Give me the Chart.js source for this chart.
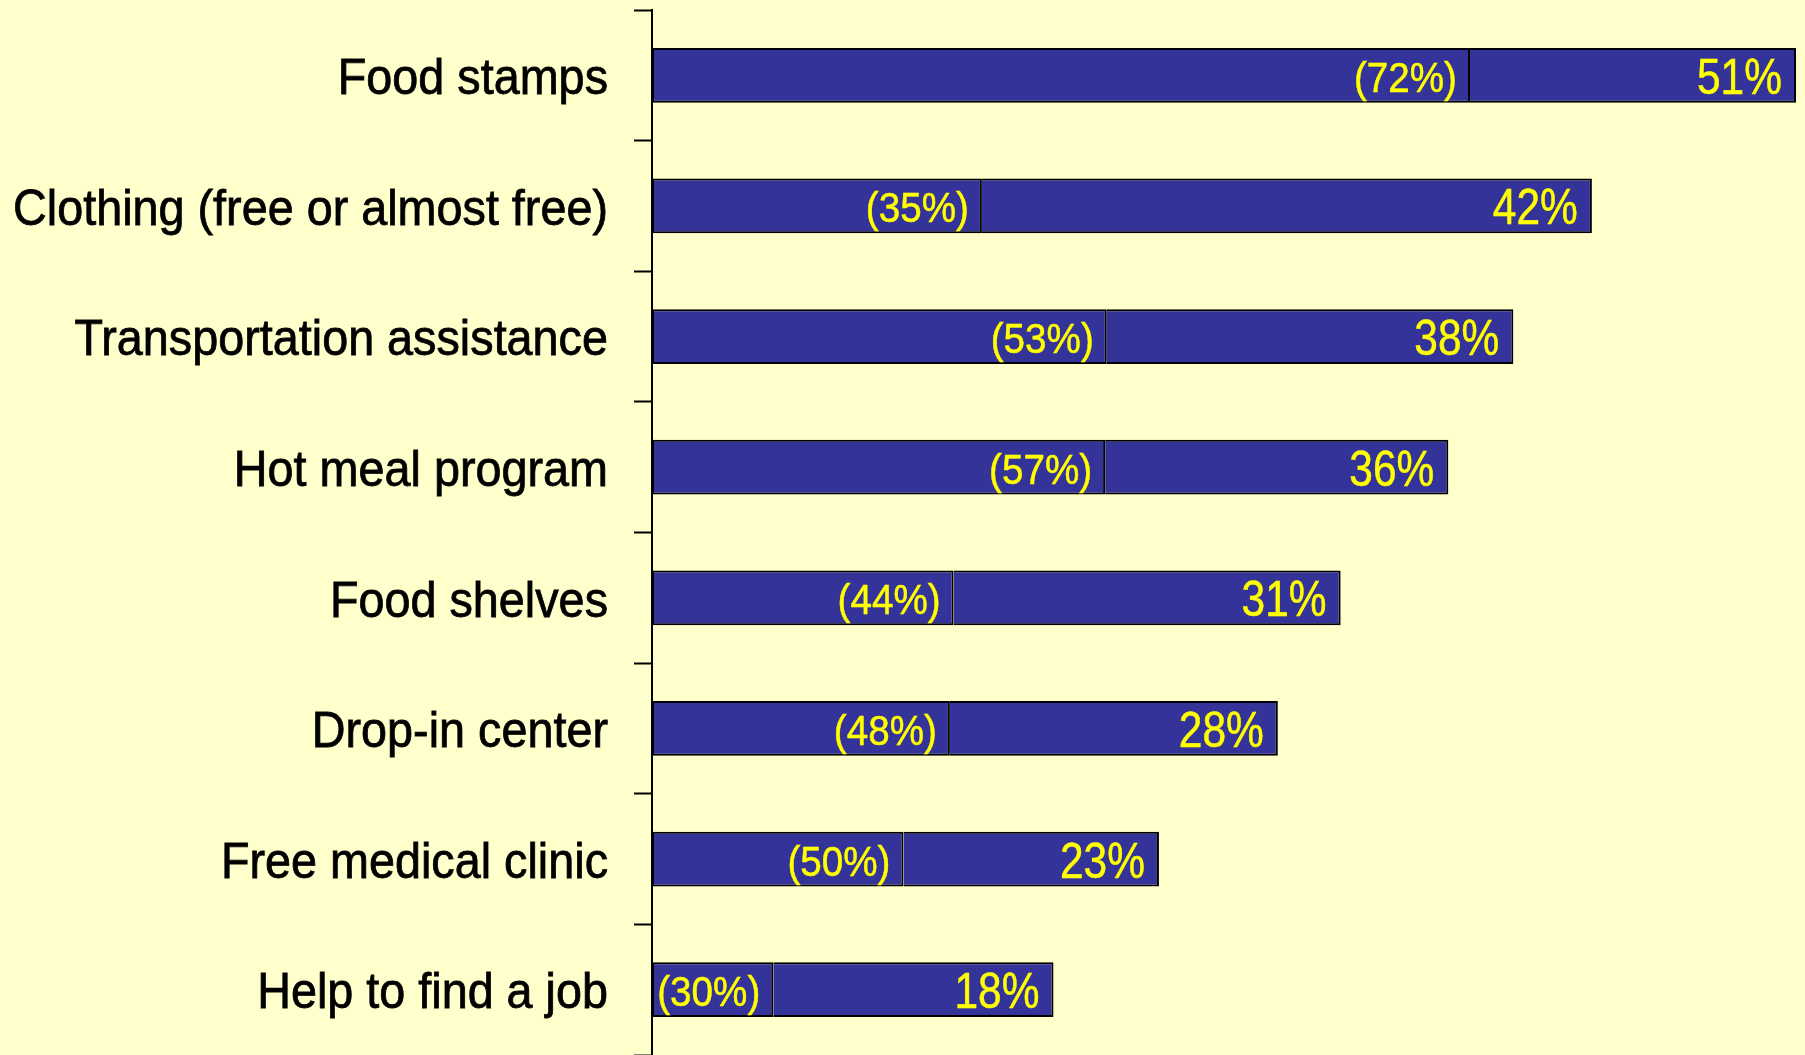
<!DOCTYPE html>
<html>
<head>
<meta charset="utf-8">
<script src="https://cdn.jsdelivr.net/npm/chart.js@4.4.1/dist/chart.umd.min.js"></script>
<style>
  html, body { margin: 0; padding: 0; background: #FFFFCC; }
  #wrap { width: 1805px; height: 1055px; position: relative; }
</style>
</head>
<body>
<div id="wrap"><canvas id="c" width="1805" height="1055"></canvas></div>
<script>
const categories = [
  "Food stamps",
  "Clothing (free or almost free)",
  "Transportation assistance",
  "Hot meal program",
  "Food shelves",
  "Drop-in center",
  "Free medical clinic",
  "Help to find a job"
];
// share who used each service (bar length, %)
const usedShare = [51.0, 41.9, 38.4, 35.5, 30.7, 27.9, 22.6, 17.9];
// of those, share in the left segment (%)
const innerShare = [71.5, 35.1, 52.8, 56.9, 43.8, 47.6, 49.6, 30.2];
// printed labels
const usedLabels = ["51%", "42%", "38%", "36%", "31%", "28%", "23%", "18%"];
const innerLabels = ["(72%)", "(35%)", "(53%)", "(57%)", "(44%)", "(48%)", "(50%)", "(30%)"];

const FONT = "'Liberation Sans', Arial, sans-serif";

const innerPart = usedShare.map((t, i) => t * innerShare[i] / 100);
const outerPart = usedShare.map((t, i) => t - innerPart[i]);

function drawNarrow(ctx, txt, xRight, yBase, size, sx, color, strokeW) {
  ctx.save();
  ctx.font = size + 'px ' + FONT;
  ctx.fillStyle = color;
  ctx.strokeStyle = color;
  ctx.textAlign = 'right';
  ctx.textBaseline = 'alphabetic';
  ctx.translate(xRight, yBase);
  ctx.scale(sx, 1);
  ctx.fillText(txt, 0, 0);
  if (strokeW) { ctx.lineWidth = strokeW; ctx.strokeText(txt, 0, 0); }
  ctx.restore();
}

const labelPlugin = {
  id: 'textLabels',
  afterDatasetsDraw(chart) {
    const ctx = chart.ctx;
    chart.data.datasets.forEach((ds, di) => {
      const meta = chart.getDatasetMeta(di);
      meta.data.forEach((el, i) => {
        if (di === 0) {
          drawNarrow(ctx, innerLabels[i], el.x - 13, el.y + 16.5, 42, 0.92, '#FFFF00', 0.5);
        } else {
          drawNarrow(ctx, usedLabels[i], el.x - 14, el.y + 18.5, 50, 0.85, '#FFFF00', 0.5);
        }
      });
    });
    const ys = chart.scales.y;
    categories.forEach((c, i) => {
      const y = ys.getPixelForValue(i);
      drawNarrow(ctx, c, ys.right - 44, y + 18.7, 50, 0.935, '#000000', 0.8);
    });
  }
};

new Chart(document.getElementById('c'), {
  type: 'bar',
  data: {
    labels: categories,
    datasets: [
      {
        data: innerPart,
        backgroundColor: '#333399',
        borderColor: '#000000',
        borderWidth: { top: 2, bottom: 2, left: 2, right: 2 },
        borderSkipped: false,
        barPercentage: 0.42,
        categoryPercentage: 1
      },
      {
        data: outerPart,
        backgroundColor: '#333399',
        borderColor: '#000000',
        borderWidth: { top: 2, bottom: 2, left: 0, right: 2 },
        borderSkipped: false,
        barPercentage: 0.42,
        categoryPercentage: 1
      }
    ]
  },
  options: {
    indexAxis: 'y',
    responsive: false,
    animation: false,
    layout: { padding: { top: 10, right: 0, bottom: 0, left: 0 } },
    plugins: { legend: { display: false }, tooltip: { enabled: false } },
    scales: {
      x: {
        stacked: true,
        display: false,
        min: 0,
        max: 51.4
      },
      y: {
        stacked: true,
        afterFit(scale) { scale.width = 652; },
        border: { display: true, color: '#000000', width: 2 },
        grid: {
          display: true,
          drawOnChartArea: false,
          drawTicks: true,
          tickLength: 18,
          tickWidth: 2,
          tickColor: '#000000',
          offset: true
        },
        ticks: { display: false }
      }
    }
  },
  plugins: [labelPlugin]
});
</script>
</body>
</html>
